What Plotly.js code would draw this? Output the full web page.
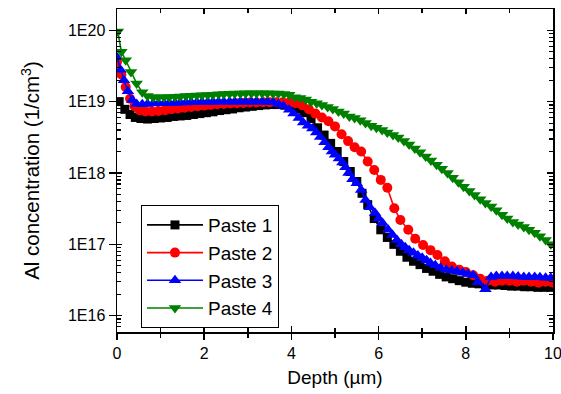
<!DOCTYPE html>
<html>
<head>
<meta charset="utf-8">
<script src="https://cdn.plot.ly/plotly-3.0.1.min.js"></script>
<style>html,body{margin:0;padding:0;background:#fff;}#chart{width:561px;height:394px;}</style>
</head>
<body>
<div id="chart"></div>
<script>
// ---- Data ----
const seriesNames = ["Paste 1", "Paste 2", "Paste 3", "Paste 4"];

const paste1X = [0.05,0.18,0.3,0.42,0.55,0.7,0.85,1.0,1.15,1.3,1.45,1.6,1.75,1.9,2.05,2.2,2.35,2.5,2.65,2.8,2.95,3.1,3.25,3.4,3.55,3.7,3.85,4.0,4.15,4.3,4.45,4.6,4.75,4.9,5.05,5.2,5.35,5.5,5.62,5.75,5.9,6.05,6.2,6.35,6.5,6.65,6.8,6.95,7.1,7.25,7.4,7.55,7.7,7.85,8.0,8.15,8.3,8.45,8.6,8.75,8.9,9.05,9.2,9.35,9.5,9.65,9.8,9.95];
const paste1Y = [1.0e19,7.8e18,6.6e18,6.0e18,5.8e18,5.7e18,5.8e18,5.9e18,6.0e18,6.2e18,6.3e18,6.4e18,6.6e18,6.8e18,7.0e18,7.2e18,7.5e18,7.7e18,7.9e18,8.2e18,8.4e18,8.6e18,8.8e18,9.0e18,9.1e18,9.1e18,8.9e18,8.5e18,7.9e18,7.0e18,5.8e18,4.3e18,3.4e18,2.6e18,2.0e18,1.45e18,1.05e18,7.6e17,5.2e17,3.6e17,2.3e17,1.6e17,1.25e17,1.0e17,8.0e16,6.6e16,5.8e16,5.2e16,4.6e16,4.2e16,3.8e16,3.5e16,3.3e16,3.1e16,2.95e16,2.85e16,2.8e16,2.75e16,2.7e16,2.7e16,2.65e16,2.6e16,2.6e16,2.55e16,2.55e16,2.5e16,2.5e16,2.5e16];

const paste2X = [0.0,0.1,0.2,0.3,0.4,0.52,0.65,0.8,0.95,1.1,1.25,1.4,1.55,1.7,1.85,2.0,2.15,2.3,2.45,2.6,2.75,2.9,3.05,3.2,3.35,3.5,3.65,3.8,3.95,4.1,4.25,4.4,4.55,4.7,4.85,5.0,5.15,5.3,5.45,5.6,5.75,5.9,6.05,6.2,6.36,6.5,6.68,6.84,7.02,7.19,7.35,7.52,7.68,7.85,8.0,8.17,8.33,8.5,8.67,8.83,9.0,9.17,9.33,9.5,9.67,9.83,10.0];
const paste2Y = [3.6e19,2.4e19,1.6e19,1.1e19,8.6e18,7.6e18,7.3e18,7.3e18,7.4e18,7.6e18,7.8e18,8.0e18,8.2e18,8.4e18,8.6e18,8.8e18,9.0e18,9.2e18,9.3e18,9.4e18,9.5e18,9.6e18,9.7e18,9.7e18,9.8e18,9.8e18,9.8e18,9.8e18,9.7e18,9.5e18,8.9e18,7.8e18,6.8e18,6.0e18,5.3e18,4.5e18,3.5e18,2.8e18,2.3e18,2.0e18,1.45e18,1.1e18,8.0e17,6.2e17,3.2e17,2.2e17,1.6e17,1.2e17,9.8e16,8.3e16,7.1e16,5.8e16,4.9e16,4.4e16,4.1e16,3.7e16,3.3e16,3.1e16,3.0e16,3.1e16,3.1e16,3.0e16,3.1e16,3.0e16,2.9e16,3.0e16,2.9e16];

const paste3X = [0.0,0.08,0.16,0.25,0.35,0.45,0.58,0.7,0.83,0.95,1.08,1.2,1.33,1.45,1.58,1.7,1.83,1.95,2.08,2.2,2.33,2.45,2.58,2.7,2.83,2.95,3.08,3.2,3.33,3.45,3.58,3.7,3.82,3.95,4.05,4.17,4.27,4.38,4.48,4.57,4.66,4.76,4.85,4.93,5.0,5.09,5.17,5.24,5.31,5.4,5.5,5.6,5.7,5.8,5.92,6.0,6.09,6.22,6.32,6.42,6.52,6.61,6.7,6.8,6.9,7.0,7.1,7.19,7.3,7.42,7.55,7.68,7.8,7.93,8.05,8.17,8.28,8.45,8.58,8.7,8.83,8.95,9.08,9.2,9.33,9.45,9.58,9.7,9.83,9.95];
const paste3Y = [4.2e19,2.8e19,2.0e19,1.4e19,1.05e19,9.3e18,9.2e18,9.3e18,9.4e18,9.5e18,9.5e18,9.6e18,9.6e18,9.7e18,9.7e18,9.8e18,9.8e18,9.9e18,9.9e18,1.0e19,1.0e19,1.0e19,1.0e19,1.0e19,1.0e19,1.0e19,1.0e19,1.0e19,1.0e19,1.0e19,9.8e18,9.3e18,8.7e18,7.7e18,6.8e18,5.9e18,5.1e18,4.6e18,4.2e18,3.7e18,3.2e18,2.7e18,2.3e18,2.0e18,1.8e18,1.6e18,1.4e18,1.2e18,1.0e18,8.2e17,7.2e17,5.8e17,4.2e17,3.3e17,2.75e17,2.3e17,2.0e17,1.6e17,1.35e17,1.15e17,1.0e17,9.1e16,8.3e16,7.6e16,7.0e16,6.5e16,6.0e16,5.5e16,5.1e16,4.7e16,4.4e16,4.3e16,4.2e16,4.0e16,3.85e16,3.7e16,2.95e16,2.35e16,3.5e16,3.6e16,3.6e16,3.6e16,3.6e16,3.55e16,3.5e16,3.5e16,3.5e16,3.45e16,3.4e16,3.4e16];

const paste4X = [0.02,0.1,0.2,0.32,0.45,0.58,0.7,0.83,0.95,1.08,1.2,1.33,1.45,1.58,1.7,1.83,1.95,2.08,2.2,2.33,2.45,2.58,2.7,2.83,2.95,3.08,3.2,3.33,3.45,3.58,3.7,3.83,3.95,4.08,4.2,4.33,4.45,4.58,4.7,4.83,4.95,5.08,5.2,5.33,5.45,5.58,5.7,5.83,5.95,6.08,6.2,6.33,6.45,6.58,6.7,6.83,6.95,7.08,7.2,7.33,7.45,7.58,7.7,7.83,7.95,8.08,8.2,8.33,8.45,8.58,8.7,8.83,8.95,9.08,9.2,9.33,9.45,9.58,9.7,9.83,9.95];
const paste4Y = [9.6e19,5.0e19,3.8e19,2.6e19,1.8e19,1.35e19,1.2e19,1.15e19,1.15e19,1.15e19,1.16e19,1.17e19,1.18e19,1.2e19,1.21e19,1.22e19,1.23e19,1.24e19,1.25e19,1.27e19,1.28e19,1.29e19,1.3e19,1.3e19,1.31e19,1.31e19,1.31e19,1.31e19,1.31e19,1.3e19,1.3e19,1.28e19,1.25e19,1.15e19,1.12e19,1.07e19,1.0e19,9.5e18,9.0e18,8.4e18,7.9e18,7.3e18,6.8e18,6.2e18,5.9e18,5.5e18,5.0e18,4.6e18,4.3e18,4.0e18,3.7e18,3.4e18,3.15e18,2.8e18,2.5e18,2.2e18,1.95e18,1.7e18,1.5e18,1.3e18,1.15e18,1.0e18,8.6e17,7.4e17,6.4e17,5.6e17,4.9e17,4.3e17,3.8e17,3.4e17,3.0e17,2.6e17,2.3e17,2.05e17,1.9e17,1.75e17,1.6e17,1.45e17,1.3e17,1.15e17,1.0e17];

const xTickVals = [0, 2, 4, 6, 8, 10];
const xTickText = ["0", "2", "4", "6", "8", "10"];
const xMinorVals = [1, 3, 5, 7, 9];
const yTickVals = [1e16, 1e17, 1e18, 1e19, 1e20];
const yTickText = ["1E16", "1E17", "1E18", "1E19", "1E20"];

// ---- Styles ----
const colors = ["#000000", "#ff0000", "#0000ff", "#008000"];
const symbols = ["square", "circle", "triangle-up", "triangle-down"];
const sizes = [9, 10, 11, 11];
const FONT = "Liberation Sans, Arial, Helvetica, sans-serif";

const xs = [paste1X, paste2X, paste3X, paste4X];
const ys = [paste1Y, paste2Y, paste3Y, paste4Y];

const traces = seriesNames.map((name, i) => ({
  type: "scatter",
  mode: "lines+markers",
  name: name,
  x: xs[i],
  y: ys[i],
  line: {color: colors[i], width: 1.6},
  marker: {color: colors[i], symbol: symbols[i], size: sizes[i], line: {width: 0}},
  xaxis: "x", yaxis: "y"
}));

// invisible helper traces so the overlay (tick-only) axes get drawn
traces.push({type: "scatter", mode: "markers", x: [null], y: [null], xaxis: "x2", yaxis: "y2", showlegend: false, hoverinfo: "skip"});
traces.push({type: "scatter", mode: "markers", x: [null], y: [null], xaxis: "x3", yaxis: "y3", showlegend: false, hoverinfo: "skip"});

const xRange = [0, 10];
const yRange = [15.772, 20.298];

const layout = {
  width: 561, height: 394,
  margin: {l: 117, r: 8, t: 9, b: 62},
  paper_bgcolor: "#ffffff", plot_bgcolor: "#ffffff",
  font: {family: FONT, color: "#000000"},
  showlegend: true,
  legend: {
    x: 0.055, y: 0.393, xanchor: "left", yanchor: "top",
    bordercolor: "#000000", borderwidth: 1, bgcolor: "#ffffff",
    font: {family: FONT, size: 19, color: "#000000"},
    itemwidth: 56, tracegroupgap: 0
  },
  xaxis: {
    range: xRange, domain: [0, 1], anchor: "y",
    tickmode: "array", tickvals: xTickVals, ticktext: xTickText,
    ticks: "outside", ticklen: 6, tickwidth: 1.5, tickcolor: "#000",
    ticklabeloverflow: "allow",
    minor: {tickmode: "array", tickvals: xMinorVals, ticks: "outside", ticklen: 4, tickwidth: 1.5, tickcolor: "#000", showgrid: false},
    showline: true, linewidth: 1.5, linecolor: "#000", mirror: false,
    showgrid: false, zeroline: false,
    tickfont: {family: FONT, size: 16, color: "#000"},
    title: {text: "Depth (µm)", font: {family: FONT, size: 19, color: "#000"}, standoff: 10}
  },
  xaxis2: {
    range: xRange, overlaying: "x", anchor: "y2", side: "bottom",
    tickmode: "array", tickvals: xTickVals,
    ticks: "inside", ticklen: 6, tickwidth: 1.5, tickcolor: "#000",
    minor: {tickmode: "array", tickvals: xMinorVals, ticks: "inside", ticklen: 4, tickwidth: 1.5, tickcolor: "#000", showgrid: false},
    showticklabels: false, showline: false, showgrid: false, zeroline: false
  },
  xaxis3: {
    range: xRange, overlaying: "x", anchor: "y3", side: "top",
    tickmode: "array", tickvals: xTickVals,
    ticks: "inside", ticklen: 5, tickwidth: 1.5, tickcolor: "#000",
    minor: {tickmode: "array", tickvals: xMinorVals, ticks: "inside", ticklen: 4, tickwidth: 1.5, tickcolor: "#000", showgrid: false},
    showticklabels: false, showline: true, linewidth: 1.5, linecolor: "#000", showgrid: false, zeroline: false
  },
  yaxis: {
    type: "log", range: yRange, domain: [0, 1], anchor: "x",
    tickmode: "array", tickvals: yTickVals, ticktext: yTickText,
    ticks: "outside", ticklen: 7, tickwidth: 1.5, tickcolor: "#000",
    showline: true, linewidth: 1.5, linecolor: "#000", mirror: false,
    showgrid: false, zeroline: false,
    tickfont: {family: FONT, size: 16, color: "#000"},
    title: {text: "Al concentration (1/cm<sup>3</sup>)", font: {family: FONT, size: 20.5, color: "#000"}, standoff: 22}
  },
  yaxis2: {
    type: "log", range: yRange, overlaying: "y", anchor: "x2", side: "left",
    tickmode: "linear", tick0: 0, dtick: 1,
    ticks: "inside", ticklen: 5, tickwidth: 1.5, tickcolor: "#000",
    minor: {dtick: "D1", ticks: "inside", ticklen: 4, tickwidth: 1.2, tickcolor: "#000", showgrid: false},
    showticklabels: false, showline: false, showgrid: false, zeroline: false
  },
  yaxis3: {
    type: "log", range: yRange, overlaying: "y", anchor: "x3", side: "right",
    tickmode: "linear", tick0: 0, dtick: 1,
    ticks: "inside", ticklen: 6, tickwidth: 1.5, tickcolor: "#000",
    minor: {dtick: "D1", ticks: "inside", ticklen: 4, tickwidth: 1.2, tickcolor: "#000", showgrid: false},
    showticklabels: false, showline: true, linewidth: 1.5, linecolor: "#000", showgrid: false, zeroline: false
  }
};

Plotly.newPlot("chart", traces, layout, {staticPlot: true, displayModeBar: false});
</script>
</body>
</html>
